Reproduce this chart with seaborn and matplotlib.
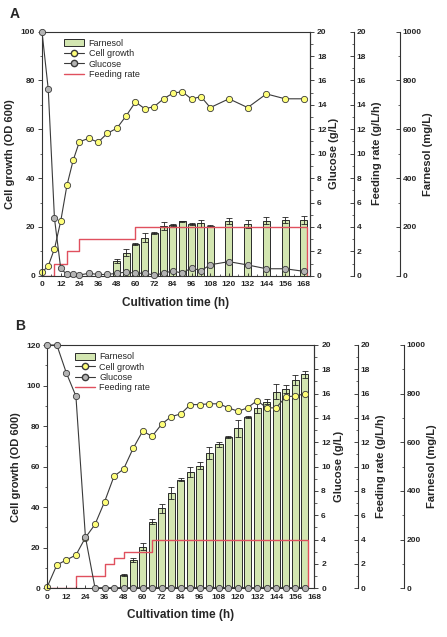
import matplotlib
matplotlib.use('Agg')
import matplotlib.pyplot as plt
from matplotlib.lines import Line2D
from matplotlib.patches import Patch
from matplotlib.ticker import MultipleLocator
import seaborn as sns

# ---- panel A data ----
a_time = [0, 4, 8, 12, 16, 20, 24, 30, 36, 42, 48, 54, 60, 66, 72, 78, 84, 90,
          96, 102, 108, 120, 132, 144, 156, 168]
a_cell = [1.4, 4, 11, 22.3, 37, 47.3, 54.9, 56.3, 54.7, 58.4, 60.4, 65.5, 71.2,
          68.4, 69.3, 72.5, 74.8, 75.4, 72.4, 73.4, 68.9, 72.5, 68.9, 74.5, 72.5, 72.5]
a_glucose = [20, 15.3, 4.7, 0.6, 0.1, 0.1, 0.05, 0.2, 0.1, 0.1, 0.2, 0.3, 0.2,
             0.2, 0.05, 0.2, 0.4, 0.2, 0.65, 0.4, 0.9, 1.15, 0.88, 0.57, 0.57, 0.36]
a_bar_time = [48, 54, 60, 66, 72, 78, 84, 90, 96, 102, 108, 120, 132, 144, 156, 168]
a_farnesol = [60, 94, 131, 156, 174, 204, 208, 223, 212, 215, 204, 224, 212, 225, 228, 228]
a_farnesol_err = [8, 15, 5, 18, 5, 15, 3, 2, 3, 15, 3, 12, 18, 15, 12, 15]
a_feed_time = [0, 8, 16, 24, 60, 170]
a_feed_rate = [0, 1, 2, 3, 4, 0]

# ---- panel B data ----
b_time = [0, 6, 12, 18, 24, 30, 36, 42, 48, 54, 60, 66, 72, 78, 84, 90, 96, 102,
          108, 114, 120, 126, 132, 138, 144, 150, 156, 162]
b_cell = [0.8, 11.5, 14, 16.4, 25, 31.5, 42.6, 55.3, 58.8, 69, 77.5, 75, 81, 84.7,
          86, 90.6, 90.6, 91, 91, 89, 87.3, 89, 92.6, 89, 89, 94.4, 94.9, 95.9]
b_glucose = [20, 20, 17.7, 15.8, 4.2, 0.05, 0.05, 0.05, 0.05, 0.05, 0.05, 0.05,
             0.05, 0.05, 0.05, 0.05, 0.05, 0.05, 0.05, 0.05, 0.05, 0.05, 0.05,
             0.05, 0.05, 0.05, 0.05, 0.05]
b_bar_time = [48, 54, 60, 66, 72, 78, 84, 90, 96, 102, 108, 114, 120, 126, 132,
              138, 144, 150, 156, 162]
b_farnesol = [55, 115, 171, 273, 328, 390, 447, 477, 504, 555, 592, 623, 657, 703,
              742, 767, 808, 819, 856, 879]
b_farnesol_err = [3, 8, 15, 10, 20, 25, 5, 20, 15, 25, 10, 5, 35, 5, 20, 10, 30, 15, 20, 15]
b_feed_time = [0, 18, 36, 42, 48, 66, 164]
b_feed_rate = [0, 1, 2, 2.5, 3, 4, 0]

GREEN = '#d3e6b1'
YELLOW = '#ffff7a'
GREY = '#b4b4b4'
DARK = '#3a3a3a'
RED = '#e0505e'

sns.set_style('ticks')
plt.rcParams['font.family'] = ['Liberation Sans', 'DejaVu Sans']

fig = plt.figure(figsize=(4.47, 6.37), dpi=100)


def bold_ticks(a):
    for lbl in a.get_xticklabels() + a.get_yticklabels():
        lbl.set_fontweight('bold')


def draw_panel(rect, xmax, cell_max, cell_step, t, cell, glu, bt, farn, ferr,
               ft, fr, letter, letter_xy, leg_x):
    ax = fig.add_axes(rect)
    ax_p = ax.twinx()
    ax_f = ax.twinx()
    ax_g = ax.twinx()
    for z, a in enumerate([ax_p, ax_f, ax, ax_g]):
        a.set_zorder(z + 1)
        a.patch.set_visible(False)

    # farnesol bars
    ax_p.bar(bt, farn, width=4.5, color=GREEN, edgecolor='#2a2a2a', linewidth=0.7,
             yerr=ferr, capsize=2,
             error_kw=dict(elinewidth=0.6, capthick=0.6, ecolor='#222222'))
    ax_p.set_ylim(0, 1000)

    # feeding rate
    ax_f.step(ft, fr, where='post', color=RED, lw=1.0)
    ax_f.set_ylim(0, 20)

    # cell growth and glucose
    sns.lineplot(x=t, y=cell, ax=ax, color=DARK, lw=0.8, marker='o',
                 markerfacecolor=YELLOW, markeredgecolor=DARK, markersize=4.5,
                 markeredgewidth=0.6, clip_on=False)
    sns.lineplot(x=t, y=glu, ax=ax_g, color=DARK, lw=0.8, marker='o',
                 markerfacecolor=GREY, markeredgecolor=DARK, markersize=4.5,
                 markeredgewidth=0.6, clip_on=False)
    ax.set_ylim(0, cell_max)
    ax_g.set_ylim(0, 20)
    ax.set_xlim(0, xmax)

    # ticks
    ax.set_xticks(range(0, 169, 12))
    ax.xaxis.set_minor_locator(MultipleLocator(6))
    ax.yaxis.set_major_locator(MultipleLocator(cell_step))
    ax.yaxis.set_minor_locator(MultipleLocator(cell_step / 2))
    ax.tick_params(axis='x', which='major', direction='in', length=2.5,
                   labelsize=6, width=0.6, pad=4)
    ax.tick_params(axis='x', which='minor', direction='in', length=1.5, width=0.5)
    ax.tick_params(axis='y', which='major', direction='out', length=3,
                   labelsize=6, width=0.6, pad=2)
    ax.tick_params(axis='y', which='minor', direction='out', length=1.8, width=0.5)
    for s in ax.spines.values():
        s.set_linewidth(0.8)
        s.set_color('#333333')
    bold_ticks(ax)

    for a, pos, step, direction in [(ax_g, 1.0, 2, 'out'),
                                    (ax_f, 1.164, 2, 'in'),
                                    (ax_p, 1.336, 200, 'in')]:
        for side in ['top', 'bottom', 'left']:
            a.spines[side].set_visible(False)
        a.spines['right'].set_position(('axes', pos))
        a.spines['right'].set_linewidth(0.8)
        a.spines['right'].set_color('#333333')
        a.yaxis.set_major_locator(MultipleLocator(step))
        a.yaxis.set_minor_locator(MultipleLocator(step / 2))
        a.tick_params(axis='y', which='major', direction=direction, length=3,
                      labelsize=6, width=0.6, pad=2)
        a.tick_params(axis='y', which='minor', direction=direction, length=1.8,
                      width=0.5)
        bold_ticks(a)

    lab = dict(fontsize=8, fontweight='bold')
    ax.set_xlabel('Cultivation time (h)', fontsize=8.5, fontweight='bold', labelpad=6)
    ax.set_ylabel('Cell growth (OD 600)', labelpad=4, **lab)
    ax_g.set_ylabel('Glucose (g/L)', labelpad=2, **lab)
    ax_f.set_ylabel('Feeding rate (g/L/h)', labelpad=4, **lab)
    ax_p.set_ylabel('Farnesol (mg/L)', labelpad=1, **lab)

    handles = [
        Patch(facecolor=GREEN, edgecolor='#2a2a2a', linewidth=0.7, label='Farnesol'),
        Line2D([0], [0], color=DARK, lw=0.8, marker='o', markerfacecolor=YELLOW,
               markeredgecolor=DARK, markersize=4.5, label='Cell growth'),
        Line2D([0], [0], color=DARK, lw=0.8, marker='o', markerfacecolor=GREY,
               markeredgecolor=DARK, markersize=4.5, label='Glucose'),
        Line2D([0], [0], color=RED, lw=1.0, label='Feeding rate'),
    ]
    ax_g.legend(handles=handles, loc='upper left', bbox_to_anchor=(leg_x, 0.985),
                frameon=False, fontsize=6.5, handlelength=2.2, handleheight=0.8,
                handletextpad=0.5, labelspacing=0.15, borderaxespad=0)

    fig.text(letter_xy[0], letter_xy[1], letter, fontsize=10, fontweight='bold',
             ha='left', va='center')


draw_panel([42 / 447, 1 - 275.7 / 637, 268 / 447, 244 / 637], 172, 100, 20,
           a_time, a_cell, a_glucose, a_bar_time, a_farnesol, a_farnesol_err,
           a_feed_time, a_feed_rate, 'A', (10 / 447, 1 - 14 / 637), 0.07)

draw_panel([47.3 / 447, 1 - 588.3 / 637, 267 / 447, 243.3 / 637], 168, 120, 20,
           b_time, b_cell, b_glucose, b_bar_time, b_farnesol, b_farnesol_err,
           b_feed_time, b_feed_rate, 'B', (15 / 447, 1 - 326 / 637), 0.09)

fig.savefig('out.png', dpi=100)
